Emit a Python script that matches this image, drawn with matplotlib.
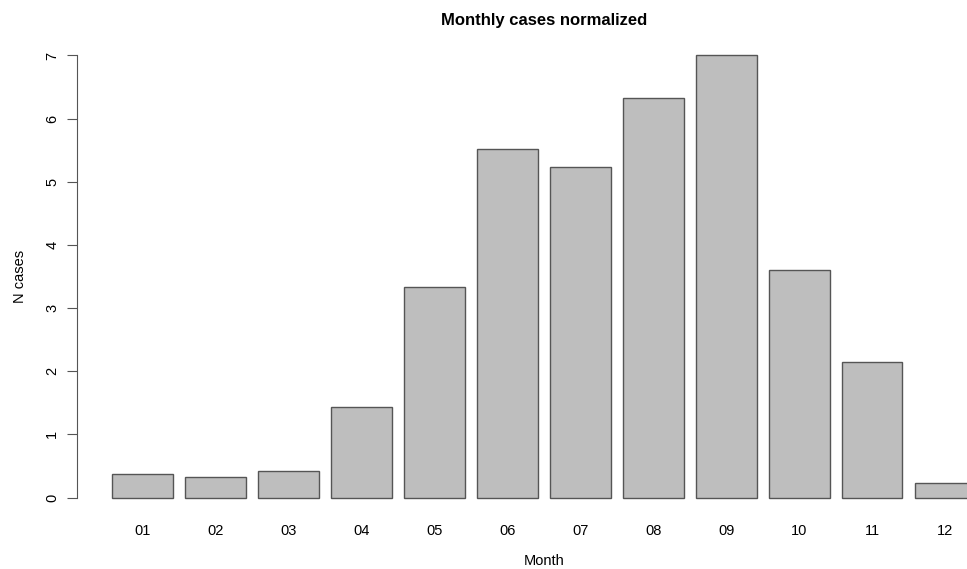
import matplotlib
matplotlib.use("Agg")
from matplotlib import pyplot as plt
import numpy as np

plt.rcParams['font.family'] = ['Liberation Sans', 'DejaVu Sans']

# monthly normalized case counts
months = ["01", "02", "03", "04", "05", "06", "07", "08", "09", "10", "11", "12"]
cases = [0.37, 0.33, 0.42, 1.43, 3.33, 5.52, 5.23, 6.33, 7.0, 3.61, 2.14, 0.23]
y_ticks = [0, 1, 2, 3, 4, 5, 6, 7]

# R barplot layout: width 1, space 0.2
lefts = 0.2 + 1.2 * np.arange(len(cases))
centers = lefts + 0.5

fig = plt.figure(figsize=(9.67, 5.69), dpi=100)
ax = fig.add_axes([77.4 / 967, 53.8 / 569, (1010 - 77.4) / 967, (515.2 - 37.8) / 569])

ax.bar(centers, cases, width=1.0, color="#bebebe", edgecolor="#555555", linewidth=1.0)

ax.set_xlim(-0.368, 14.968)
ax.set_ylim(-0.28, 7.28)

for s in ["top", "right", "bottom"]:
    ax.spines[s].set_visible(False)
ax.spines["left"].set_bounds(0, 7)
ax.spines["left"].set_color("#555555")

ax.set_yticks(y_ticks)
ax.set_yticklabels([str(v) for v in y_ticks], rotation=90, va="center")
ax.tick_params(axis="y", length=7, color="#555555", labelsize=10.5, pad=6)

ax.set_xticks(centers)
ax.set_xticklabels(months)
ax.tick_params(axis="x", length=0, labelsize=10.5, pad=6)

ax.set_xlabel("Month", fontsize=10.5, labelpad=12)
ax.set_ylabel("N cases", fontsize=10.5, labelpad=13)

fig.text(544 / 967, 1 - 20 / 569, "Monthly cases normalized", ha="center", va="center",
         fontsize=12, fontweight="bold")

plt.savefig("out.png", dpi=100)
